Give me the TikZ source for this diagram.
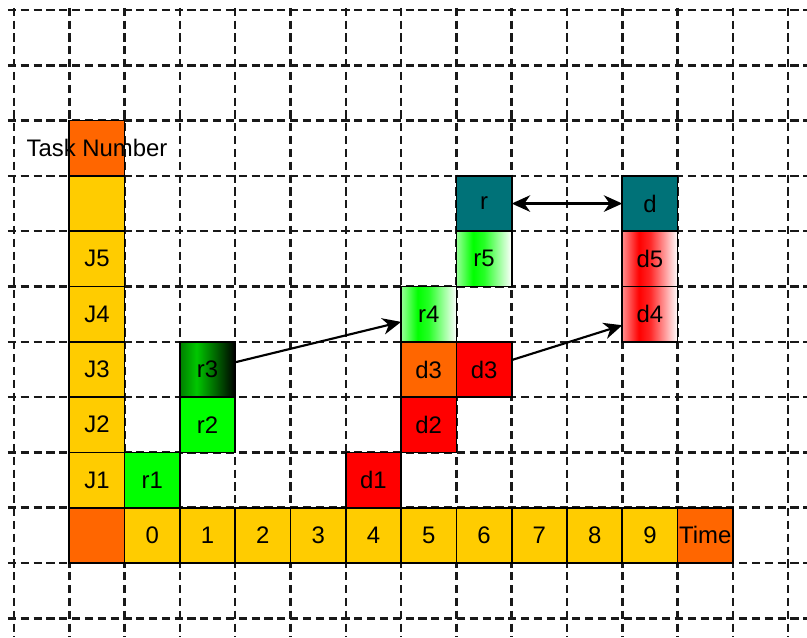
\documentclass[tikz,border=0pt]{standalone}
\usepackage{fontspec}
\setmainfont{Liberation Sans}
\usetikzlibrary{arrows.meta}
\definecolor{orng}{RGB}{255,102,0}
\definecolor{yel}{RGB}{255,204,0}
\definecolor{grn}{RGB}{0,255,0}
\definecolor{rd}{RGB}{255,0,0}
\definecolor{tealc}{RGB}{0,114,120}
\colorlet{palegrn}{grn!40!white}
\colorlet{palerd}{rd!45!white}
\colorlet{dkgrn}{grn!50!black}
\colorlet{midgrn}{grn!78!black}
\pgfdeclarehorizontalshading{gwshade}{100bp}{color(0bp)=(palegrn); color(25bp)=(palegrn); color(40bp)=(grn); color(50bp)=(grn!85!white); color(75bp)=(white); color(100bp)=(white)}
\pgfdeclarehorizontalshading{rwshade}{100bp}{color(0bp)=(palerd); color(25bp)=(palerd); color(40bp)=(rd); color(50bp)=(rd!85!white); color(75bp)=(white); color(100bp)=(white)}
\pgfdeclarehorizontalshading{gkshade}{100bp}{color(0bp)=(dkgrn); color(25bp)=(dkgrn); color(40bp)=(midgrn); color(75bp)=(black); color(100bp)=(black)}
\begin{document}
\begin{tikzpicture}[x=1cm,y=1cm,
  gridline/.style={black!90, line width=1.25pt, dash pattern=on 4.2pt off 2.4pt},
  cell/.style={draw=black, line width=0.9pt, minimum size=1cm, inner sep=0pt, outer sep=0pt, font=\fontsize{12.3}{14}\selectfont},
  celltext/.style={inner sep=0pt, font=\fontsize{12.3}{14}\selectfont},
  arr/.style={line width=1.1pt, -{Stealth[length=9.5pt,width=8.5pt,inset=3pt]}},
  arrboth/.style={line width=1.1pt, {Stealth[length=9.5pt,width=8.5pt,inset=3pt]}-{Stealth[length=9.5pt,width=8.5pt,inset=3pt]}}]
\useasboundingbox (-0.253,0.181) rectangle (14.34,-11.338);
% grid
\foreach \i in {0,...,14} \draw[gridline] (\i,0.04) -- (\i,-11.338);
\foreach \j in {0,...,11} \draw[gridline] (-0.11,-\j) -- (14.34,-\j);
% task number column
\node[cell, fill=orng] (tn) at (1.5,-2.5) {};
\node[celltext] (tnlabel) at (tn.center) {Task Number};
\node[cell, fill=yel] (jt) at (1.5,-3.5) {};
\node[cell, fill=yel] (j5) at (1.5,-4.5) {J5};
\node[cell, fill=yel] (j4) at (1.5,-5.5) {J4};
\node[cell, fill=yel] (j3) at (1.5,-6.5) {J3};
\node[cell, fill=yel] (j2) at (1.5,-7.5) {J2};
\node[cell, fill=yel] (j1) at (1.5,-8.5) {J1};
\node[cell, fill=orng] (corner) at (1.5,-9.5) {};
% time row
\foreach \t in {0,...,9} \node[cell, fill=yel] (t\t) at (\t+2.5,-9.5) {\t};
\node[cell, fill=orng] (time) at (12.5,-9.5) {};
\node[celltext] (timelabel) at (time.center) {Time};
% tasks
\node[cell, fill=grn] (r1) at (2.5,-8.5) {r1};
\node[cell, fill=grn] (r2) at (3.5,-7.5) {r2};
\node[cell, shading=gkshade] (r3) at (3.5,-6.5) {r3};
\node[cell, fill=rd] (d1) at (6.5,-8.5) {d1};
\node[cell, fill=rd] (d2) at (7.5,-7.5) {d2};
\node[cell, fill=orng] (d3a) at (7.5,-6.5) {d3};
\node[cell, shading=gwshade] (r4) at (7.5,-5.5) {r4};
\node[cell, fill=rd] (d3b) at (8.5,-6.5) {d3};
\node[cell, shading=gwshade] (r5) at (8.5,-4.5) {r5};
\node[cell, fill=tealc] (r) at (8.5,-3.5) {r};
\node[cell, fill=tealc] (d) at (11.5,-3.5) {d};
\node[cell, shading=rwshade] (d5) at (11.5,-4.5) {d5};
\node[cell, shading=rwshade] (d4) at (11.5,-5.5) {d4};
% arrows
\draw[arr] ([yshift=0.13cm]r3.east) -- ([yshift=-0.14cm]r4.west);
\draw[arr] ([yshift=0.17cm]d3b.east) -- ([yshift=-0.2cm]d4.west);
\draw[arrboth] (r.east) -- (d.west);
\end{tikzpicture}
\end{document}
